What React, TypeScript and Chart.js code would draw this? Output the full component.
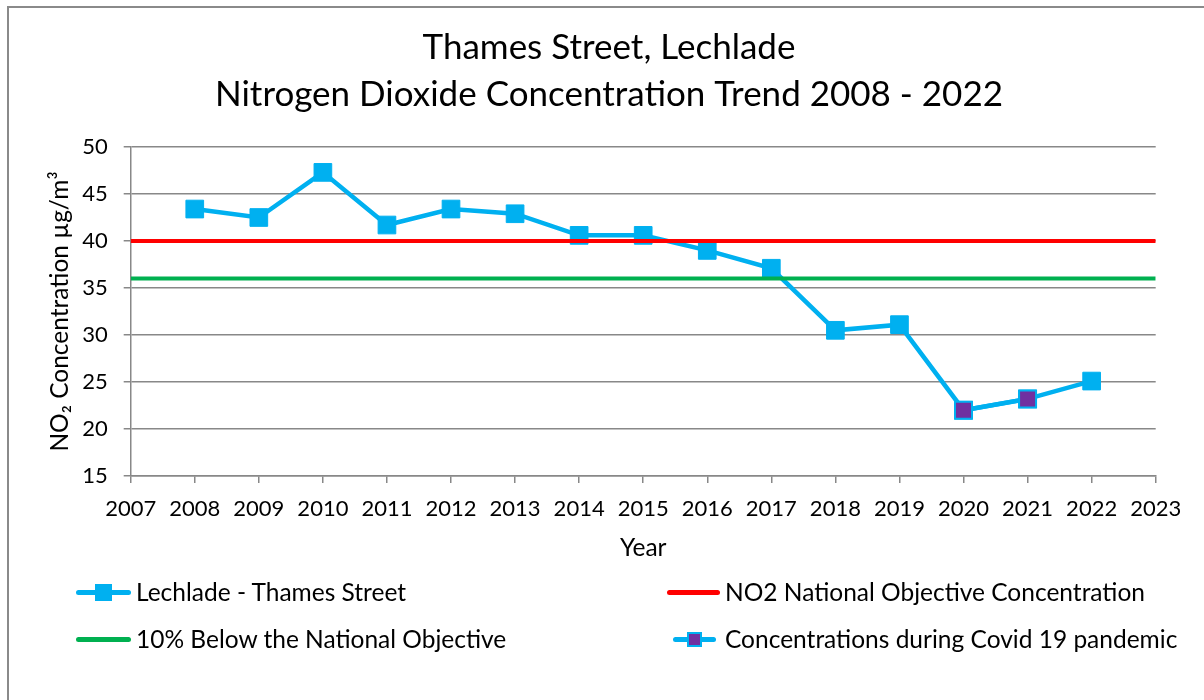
import React, { useEffect, useRef } from "react";
import { Chart, registerables } from "chart.js";

Chart.register(...registerables);

// ---- data ----
const years = [2008, 2009, 2010, 2011, 2012, 2013, 2014, 2015, 2016, 2017, 2018, 2019, 2020, 2021, 2022];
const no2Values = [43.4, 42.5, 47.3, 41.7, 43.4, 42.9, 40.6, 40.6, 39.0, 37.1, 30.5, 31.1, 22.0, 23.2, 25.1];
const covidYears = [2020, 2021];
const covidValues = [22.0, 23.2];
const axisYears = [2007, 2023];
const objectiveValue = 40;
const belowObjectiveValue = 36;
const yTickValues = [15, 20, 25, 30, 35, 40, 45, 50];
const titleLines = ["Thames Street, Lechlade", "Nitrogen Dioxide Concentration Trend 2008 - 2022"];
const seriesLabels = [
  "Lechlade - Thames Street",
  "NO2 National Objective Concentration",
  "10% Below the National Objective",
  "Concentrations during Covid 19 pandemic",
];
const yAxisTitle = "NO\u2082 Concentration \u00b5g/m\u00b3";
const xAxisTitle = "Year";

const BLUE = "#00B0F0";
const RED = "#FF0000";
const GREEN = "#00B050";
const PURPLE = "#7030A0";
const GRID = "#888888";
const FONT = "Lato, 'Open Sans', sans-serif";
const LABEL_SIZE = 24.5;

export default function App() {
  const canvasRef = useRef<HTMLCanvasElement | null>(null);

  useEffect(() => {
    const canvas = canvasRef.current;
    if (!canvas) return;
    const chart = new Chart(canvas, {
      type: "line",
      data: {
        datasets: [
          {
            label: seriesLabels[0],
            data: years.map((x, i) => ({ x, y: no2Values[i] })),
            borderColor: BLUE,
            backgroundColor: BLUE,
            borderWidth: 4.5,
            pointStyle: "rect",
            pointRadius: 12.5,
            pointBorderWidth: 1,
            pointBackgroundColor: BLUE,
            pointBorderColor: BLUE,
            tension: 0,
            order: 3,
          },
          {
            label: seriesLabels[1],
            data: axisYears.map((x) => ({ x, y: objectiveValue })),
            borderColor: RED,
            backgroundColor: RED,
            borderWidth: 4,
            pointRadius: 0,
            order: 2,
          },
          {
            label: seriesLabels[2],
            data: axisYears.map((x) => ({ x, y: belowObjectiveValue })),
            borderColor: GREEN,
            backgroundColor: GREEN,
            borderWidth: 4,
            pointRadius: 0,
            order: 1,
          },
          {
            label: seriesLabels[3],
            data: covidYears.map((x, i) => ({ x, y: covidValues[i] })),
            borderColor: BLUE,
            backgroundColor: PURPLE,
            borderWidth: 4.5,
            pointStyle: "rect",
            pointRadius: 12,
            pointBorderWidth: 2,
            pointBackgroundColor: PURPLE,
            pointBorderColor: BLUE,
            tension: 0,
            order: 0,
          },
        ],
      },
      options: {
        responsive: false,
        animation: false,
        devicePixelRatio: 1,
        layout: { padding: { top: 0, left: 14, right: 0, bottom: 137.5 } },
        plugins: {
          legend: { display: false },
          tooltip: { enabled: false },
          title: {
            display: true,
            text: titleLines,
            color: "#000",
            font: { family: FONT, size: 35, weight: "normal", lineHeight: 47 / 35 },
            padding: { top: 24.5, bottom: 28.5 },
          },
        },
        scales: {
          x: {
            type: "linear",
            min: axisYears[0],
            max: axisYears[1],
            afterFit: (s: any) => {
              s.height = 86.5;
            },
            ticks: {
              stepSize: 1,
              color: "#000",
              padding: 13,
              maxRotation: 0,
              autoSkip: false,
              font: { family: FONT, size: 22 },
              callback: (v: any) => String(v),
            },
            grid: {
              drawOnChartArea: false,
              drawTicks: true,
              tickLength: 7,
              color: GRID,
              lineWidth: 1.5,
            },
            border: { color: GRID, width: 1.5 },
            title: {
              display: true,
              text: xAxisTitle,
              color: "#000",
              font: { family: FONT, size: LABEL_SIZE },
              padding: { top: 0, bottom: 0 },
            },
          },
          y: {
            type: "linear",
            position: "left",
            min: yTickValues[0],
            max: yTickValues[yTickValues.length - 1],
            afterFit: (s: any) => {
              s.width = 116.7;
            },
            ticks: {
              stepSize: 5,
              color: "#000",
              padding: 16,
              font: { family: FONT, size: 22 },
            },
            grid: {
              color: GRID,
              lineWidth: 1.5,
              drawTicks: true,
              tickLength: 7,
            },
            border: { color: GRID, width: 1.5 },
            title: {
              display: true,
              text: yAxisTitle,
              color: "#000",
              font: { family: FONT, size: LABEL_SIZE },
              padding: { top: 31.3, bottom: 0 },
            },
          },
          yRight: {
            type: "linear",
            position: "right",
            min: yTickValues[0],
            max: yTickValues[yTickValues.length - 1],
            afterFit: (s: any) => {
              s.width = 48.3;
            },
            ticks: { display: false },
            grid: { display: false, drawTicks: false },
            border: { display: false },
          },
        },
      },
    });
    return () => chart.destroy();
  }, []);

  const textStyle: React.CSSProperties = {
    position: "absolute",
    fontFamily: FONT,
    fontSize: LABEL_SIZE,
    color: "#000",
    whiteSpace: "nowrap",
    lineHeight: "30px",
    transform: "translateY(-50%)",
  };
  const lineStyle = (color: string, left: number, width: number, top: number): React.CSSProperties => ({
    position: "absolute",
    left,
    top: top - 2.5,
    width,
    height: 5,
    borderRadius: 2.5,
    background: color,
  });
  const row1 = 592;
  const row2 = 639;

  return (
    <div style={{ position: "absolute", left: 0, top: 0, width: 1204, height: 700, overflow: "hidden", background: "#fff" }}>
      <div
        style={{
          position: "absolute",
          left: 7,
          top: 6,
          width: 1220,
          height: 720,
          borderTop: "2px solid #8a8a8a",
          borderLeft: "2px solid #8a8a8a",
        }}
      />
      <canvas ref={canvasRef} width={1204} height={700} style={{ position: "absolute", left: 0, top: 0, width: 1204, height: 700 }} />
      {/* legend */}
      <div style={lineStyle(BLUE, 76, 55, row1)} />
      <div style={{ position: "absolute", left: 94.5, top: row1 - 8.5, width: 17, height: 17, background: BLUE }} />
      <div style={{ ...textStyle, left: 136, top: row1 }}>{seriesLabels[0]}</div>

      <div style={lineStyle(RED, 667, 53, row1)} />
      <div style={{ ...textStyle, left: 725, top: row1 }}>{seriesLabels[1]}</div>

      <div style={lineStyle(GREEN, 76, 55, row2)} />
      <div style={{ ...textStyle, left: 136, top: row2 }}>{seriesLabels[2]}</div>

      <div style={lineStyle(BLUE, 673, 43, row2)} />
      <div
        style={{
          position: "absolute",
          left: 687,
          top: row2 - 7.5,
          width: 11,
          height: 11,
          background: PURPLE,
          border: `2px solid ${BLUE}`,
        }}
      />
      <div style={{ ...textStyle, left: 725, top: row2 }}>{seriesLabels[3]}</div>
    </div>
  );
}
